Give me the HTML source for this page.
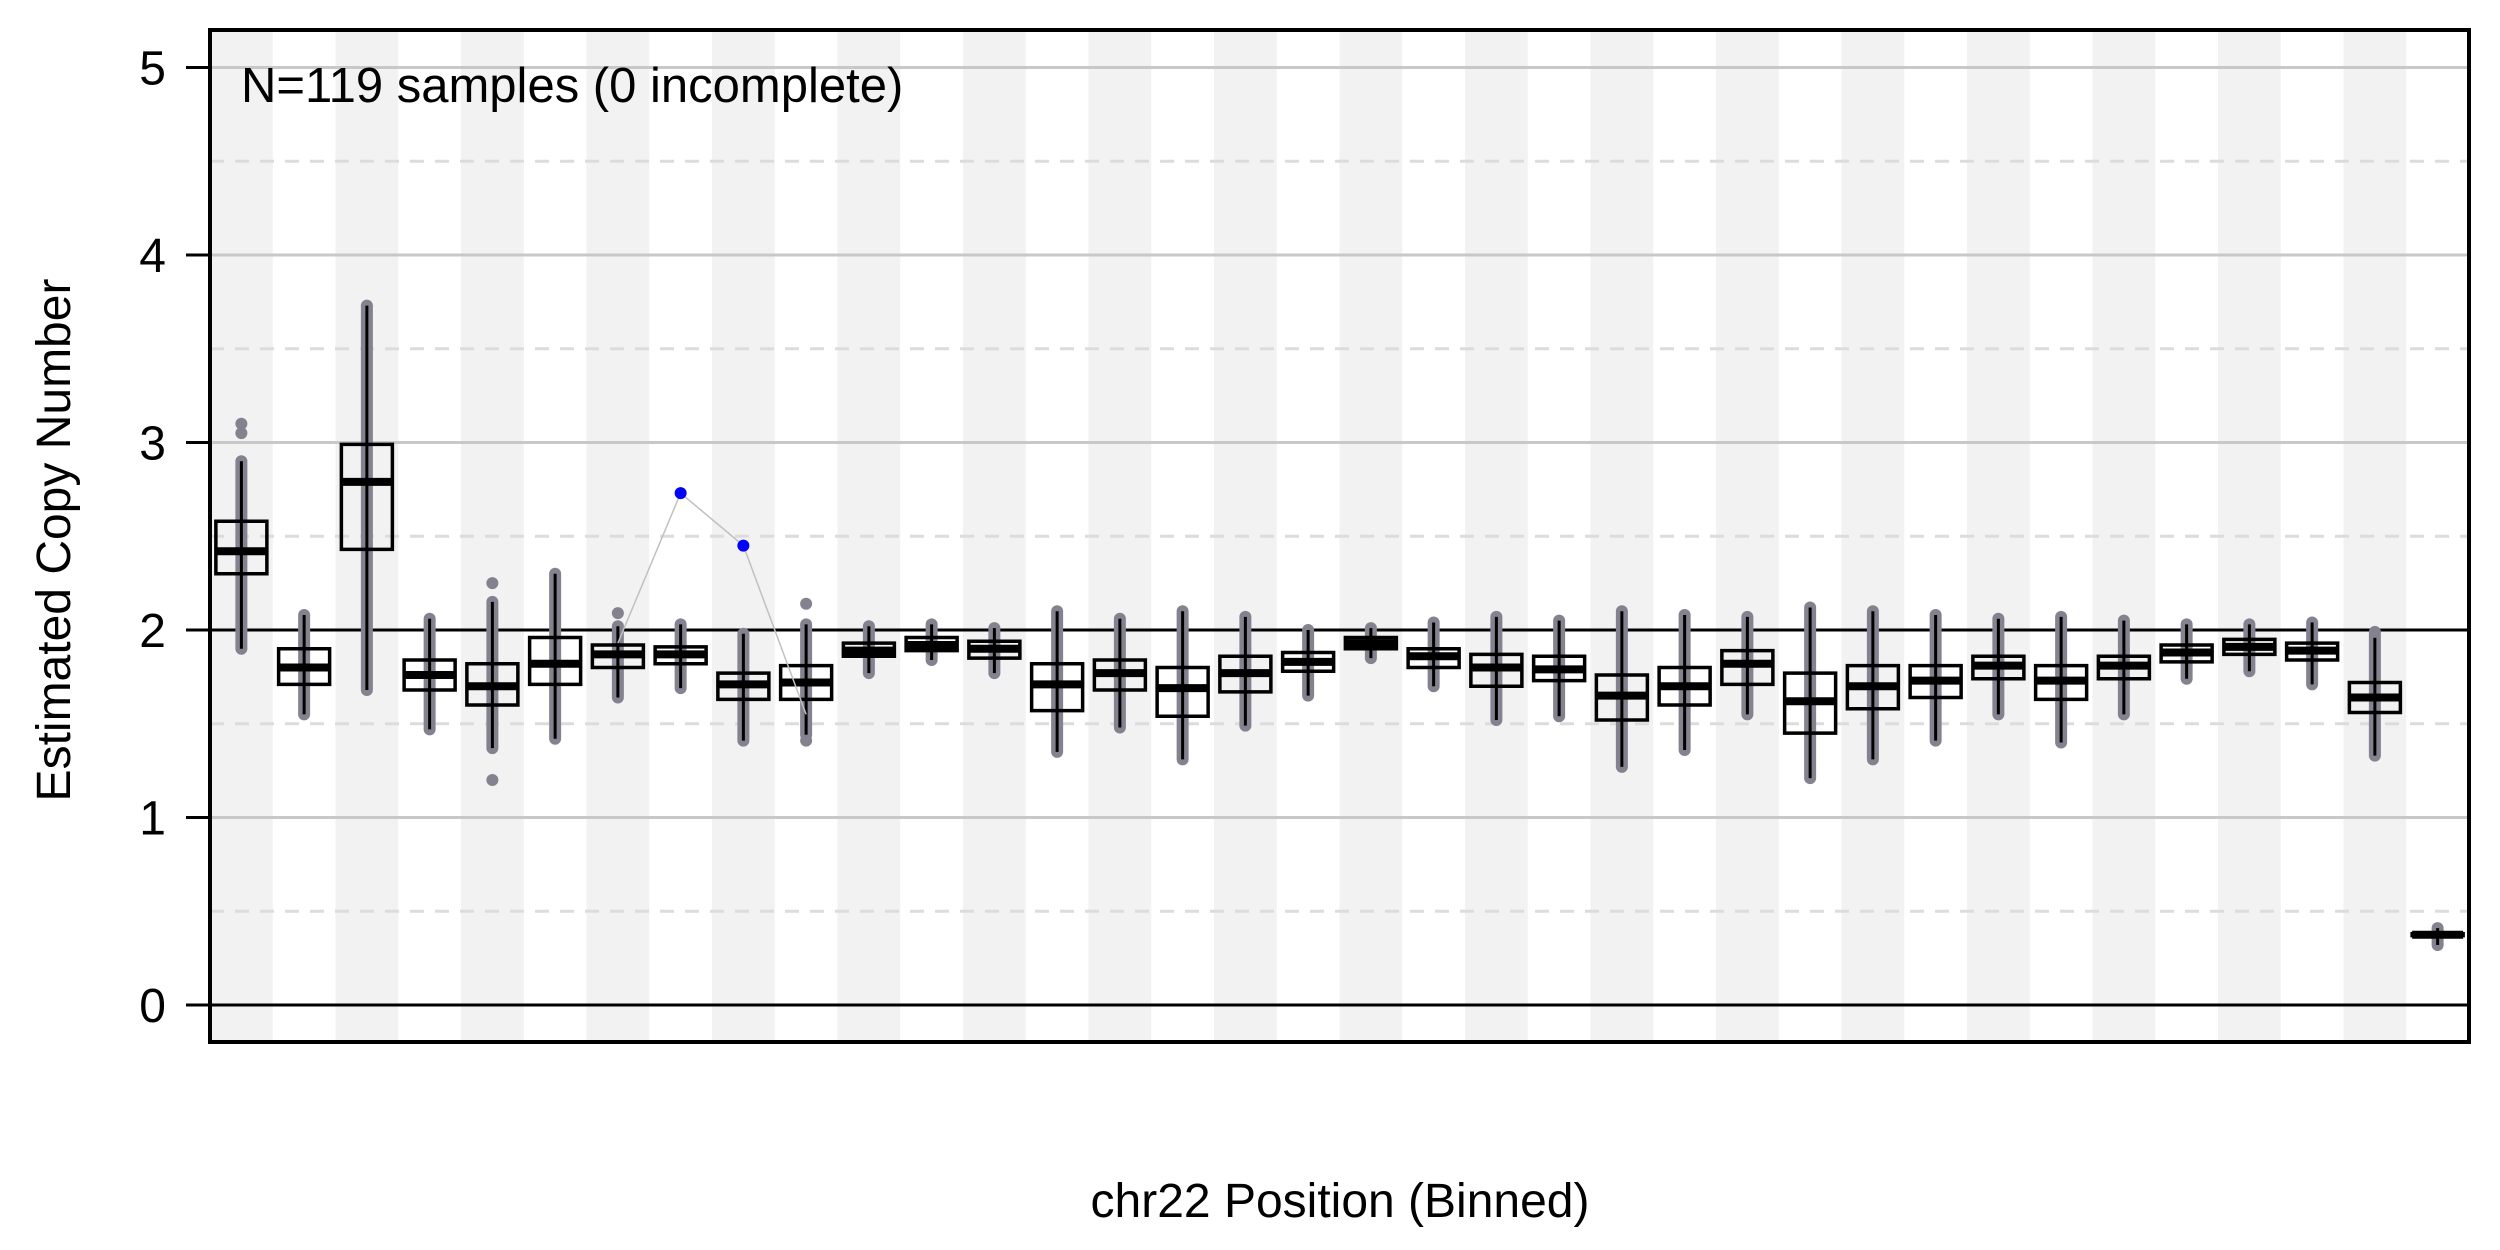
<!DOCTYPE html>
<html><head><meta charset="utf-8"><style>
html,body{margin:0;padding:0;background:#fff;}
svg{display:block;font-family:"Liberation Sans",sans-serif;}
</style></head><body>
<svg id="chart" width="2500" height="1250" viewBox="0 0 2500 1250" xmlns="http://www.w3.org/2000/svg">
<g id="stripes"></g><g id="grid"></g><g id="boxes"></g><g id="axes"></g>
</svg>
<script>
const bins = Array.from({length:36},(_,i)=>'bin'+(i+1));
const medians=[2.42,1.80,2.79,1.76,1.70,1.82,1.87,1.87,1.71,1.72,1.89,1.92,1.90,1.71,1.77,1.69,1.77,1.83,1.93,1.86,1.80,1.79,1.65,1.70,1.82,1.62,1.70,1.73,1.81,1.73,1.81,1.88,1.91,1.89,1.64,0.375];
const q1s=[2.30,1.71,2.43,1.68,1.60,1.71,1.80,1.82,1.63,1.63,1.86,1.89,1.85,1.57,1.68,1.54,1.67,1.78,1.90,1.80,1.70,1.73,1.52,1.60,1.71,1.45,1.58,1.64,1.74,1.63,1.74,1.83,1.87,1.84,1.56,0.37];
const q3s=[2.58,1.90,2.99,1.84,1.82,1.96,1.92,1.91,1.77,1.81,1.93,1.96,1.94,1.82,1.84,1.80,1.86,1.88,1.96,1.90,1.87,1.86,1.76,1.80,1.89,1.77,1.81,1.81,1.86,1.81,1.86,1.92,1.95,1.93,1.72,0.38];
const whiskLo=[1.90,1.55,1.68,1.47,1.37,1.42,1.64,1.69,1.41,1.44,1.77,1.84,1.77,1.35,1.48,1.31,1.49,1.65,1.85,1.70,1.52,1.54,1.27,1.36,1.55,1.21,1.31,1.41,1.55,1.40,1.55,1.74,1.78,1.71,1.33,0.32];
const whiskHi=[2.90,2.08,3.73,2.06,2.15,2.30,2.02,2.03,1.98,2.03,2.02,2.03,2.01,2.10,2.06,2.10,2.07,2.00,2.01,2.04,2.07,2.05,2.10,2.08,2.07,2.12,2.10,2.08,2.06,2.07,2.05,2.03,2.03,2.04,1.98,0.41];
const outlierBins=[0,0,4,4,6,9,9,34];
const outlierVals=[3.05,3.10,1.20,2.25,2.09,1.41,2.14,1.99];
const sampleBins=[6,7,8,9];
const sampleVals=[1.93,2.73,2.45,1.55];
const yTicks=[0,1,2,3,4,5];
const yHalf=[0.5,1.5,2.5,3.5,4.5];

const NS='http://www.w3.org/2000/svg';
const L=210,R=2469,T=30,B=1042;
const bw=(R-L)/bins.length;
const xc=i=>L+(i+0.5)*bw;
const y=v=>1005-v*187.5;
function mk(parent,tag,attrs){const e=document.createElementNS(NS,tag);for(const k in attrs)e.setAttribute(k,attrs[k]);document.getElementById(parent).appendChild(e);return e;}

bins.forEach((b,i)=>{ if(i%2===0){const r=mk('stripes','rect',{x:L+i*bw,y:T,width:bw,height:B-T,fill:'#f2f2f2'});

}});
yHalf.forEach(v=>{const l=mk('grid','line',{x1:L,x2:R,y1:y(v),y2:y(v),stroke:'#dcdcdc','stroke-width':3,'stroke-dasharray':'14 11'});

});
yTicks.forEach(v=>{const black=(v===0||v===2);const l=mk('grid','line',{x1:L,x2:R,y1:y(v),y2:y(v),stroke:black?'#000':'#c8c8c8','stroke-width':3});

});

const g='#85828f';
bins.forEach((b,i)=>{
  const x=xc(i), w=51;
  const col=mk('boxes','line',{x1:x,x2:x,y1:y(whiskLo[i]),y2:y(whiskHi[i]),stroke:g,'stroke-width':12,'stroke-linecap':'round'});
  
  
  const wh=mk('boxes','line',{x1:x,x2:x,y1:y(whiskLo[i]),y2:y(whiskHi[i]),stroke:'#000','stroke-width':3});
  
  
  const bx=mk('boxes','rect',{x:x-w/2,y:y(q3s[i]),width:w,height:Math.max(1,y(q1s[i])-y(q3s[i])),fill:'none',stroke:'#000','stroke-width':3.5});
  
  
  const md=mk('boxes','line',{x1:x-w/2,x2:x+w/2,y1:y(medians[i]),y2:y(medians[i]),stroke:'#000','stroke-width':8});
  
  
});
outlierBins.forEach((bi,k)=>{const c=mk('boxes','circle',{cx:xc(bi),cy:y(outlierVals[k]),r:6,fill:g});

});
const pts=sampleBins.map((bi,k)=>xc(bi)+','+y(sampleVals[k])).join(' ');
const pl=mk('boxes','polyline',{points:pts,fill:'none',stroke:'#c0c0c0','stroke-width':1.5});


[1,2].forEach(k=>{const c=mk('boxes','circle',{cx:xc(sampleBins[k]),cy:y(sampleVals[k]),r:6,fill:'#0000ff'});

});

const fr=mk('axes','rect',{x:L,y:T,width:R-L,height:B-T,fill:'none',stroke:'#000','stroke-width':4});


yTicks.forEach(v=>{
  const t=mk('axes','line',{x1:186,x2:L,y1:y(v),y2:y(v),stroke:'#000','stroke-width':3});
  
  
  const tx=mk('axes','text',{x:166,y:y(v)+17,'font-size':48,'text-anchor':'end',fill:'#000'});
  tx.textContent=v;
  
  
});
const yt=mk('axes','text',{x:0,y:0,'font-size':48,'text-anchor':'middle',transform:'translate(70,540) rotate(-90)'});
yt.textContent='Estimated Copy Number';


const xt=mk('axes','text',{x:1340,y:1217,'font-size':48,'text-anchor':'middle'});
xt.textContent='chr22 Position (Binned)';


const an=mk('axes','text',{x:241,y:102,'font-size':49});
an.textContent='N=119 samples (0 incomplete)';


</script>
</body></html>
